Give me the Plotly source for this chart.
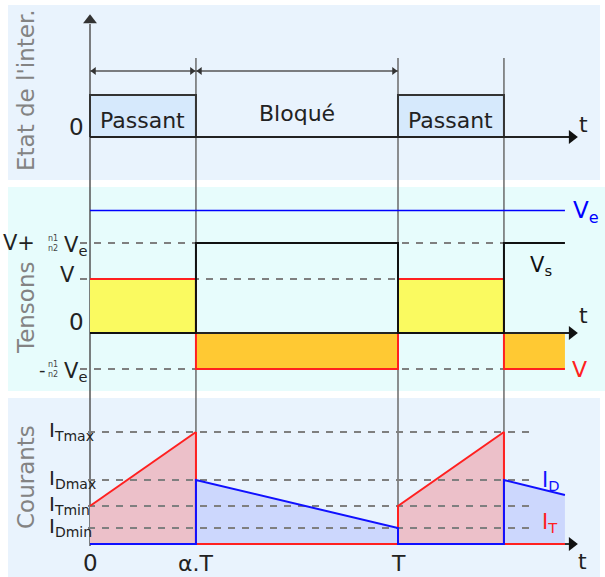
import plotly.graph_objects as go

# ---- timing (in units of the switching period T) ----
T = 1.0
alpha = 0.344
t_end = 1.542           # last instant drawn for the waveforms
t_axis_tip = 1.584      # tip of the time-axis arrows

# ---- switch state ----
state_labels = ["Passant", "Bloqué"]
state_on, state_off = 1, 0

# ---- voltages ----
V_out = 1.5             # V
V_refl = 1.0            # n1/n2 . Ve
V_e = 3.4               # Ve

# ---- currents ----
I_Tmax = 5.6
I_Tmin = 1.9
I_Dmax = 3.2
I_Dmin = 0.8
I_D_end = 2.45

time_labels = ["0", "α.T", "T"]

FONT = "DejaVu Sans"
W, H = 605, 577
PX_PER_T = 308.0
X0_PX = 90.0


def px_to_t(px):
    return (px - X0_PX) / PX_PER_T


def py_paper(py):
    return (H - py) / H


t_on = [0.0, T]
t_off = [alpha, T + alpha]
head = 6 / PX_PER_T     # half length of an arrow head, in time units

fig = go.Figure()


def line(x, y, ax, color, width=2, dash=None):
    fig.add_trace(go.Scatter(x=x, y=y, mode="lines", yaxis=ax, hoverinfo="skip",
                             line=dict(color=color, width=width, dash=dash)))


def arrow_head(x, y, ax, symbol, color="#111111", size=12):
    fig.add_trace(go.Scatter(x=[x], y=[y], mode="markers", yaxis=ax, hoverinfo="skip",
                             marker=dict(symbol=symbol, size=size, color=color,
                                         line=dict(width=0))))


# ------------------------------------------------------------------ top panel
for a, b in zip(t_on, t_off):
    fig.add_trace(go.Scatter(
        x=[a, a, b, b], y=[state_off, state_on, state_on, state_off],
        fill="toself", fillcolor="#d6e9fc", mode="lines",
        line=dict(color="#333333", width=2), yaxis="y", hoverinfo="skip"))
line([0, t_axis_tip - head], [state_off, state_off], "y", "#222222")
arrow_head(t_axis_tip - head, state_off, "y", "triangle-right")
# vertical axis arrow head
arrow_head(0, 2.78, "y", "triangle-up", color="#333333")

# duration arrows
dim_y = 1.571
for a, b in [(0, alpha), (alpha, T)]:
    line([a, b], [dim_y, dim_y], "y", "#555555", width=1.5)
    arrow_head(a + 4 / PX_PER_T, dim_y, "y", "triangle-left", color="#333333", size=7)
    arrow_head(b - 4 / PX_PER_T, dim_y, "y", "triangle-right", color="#333333", size=7)

# ------------------------------------------------------------------ middle panel
ye_fill = dict(mode="lines", line=dict(width=0), yaxis="y2", hoverinfo="skip", fill="toself")
for a, b in zip(t_on, t_off):
    fig.add_trace(go.Scatter(x=[a, a, b, b], y=[0, V_out, V_out, 0], fillcolor="#fafa60", **ye_fill))
for a, b in zip(t_off, [T, t_end]):
    fig.add_trace(go.Scatter(x=[a, a, b, b], y=[0, -V_refl, -V_refl, 0], fillcolor="#ffc933", **ye_fill))

for lvl in [V_out + V_refl, V_out, -V_refl]:
    line([px_to_t(80), T + alpha], [lvl, lvl], "y2", "#7f7f7f", dash="7px,7px")

line([0, t_end], [V_e, V_e], "y2", "#0000ff", width=1.5)
line([0, t_axis_tip - head], [0, 0], "y2", "#222222")
arrow_head(t_axis_tip - head, 0, "y2", "triangle-right")
line([0, alpha, alpha, T, T, T + alpha, T + alpha, t_end],
     [V_out, V_out, -V_refl, -V_refl, V_out, V_out, -V_refl, -V_refl], "y2", "#ff2020")
line([0, alpha, alpha, T, T, T + alpha, T + alpha, t_end],
     [0, 0, V_out + V_refl, V_out + V_refl, 0, 0, V_out + V_refl, V_out + V_refl], "y2", "#111111")

# ------------------------------------------------------------------ bottom panel
fig.add_trace(go.Scatter(
    x=[0, alpha, alpha, T, T, T + alpha, T + alpha, t_end],
    y=[I_Tmin, I_Tmax, 0, 0, I_Tmin, I_Tmax, 0, 0],
    mode="none", fill="tozeroy", fillcolor="#ecc0c9", yaxis="y3", hoverinfo="skip"))
fig.add_trace(go.Scatter(
    x=[0, alpha, alpha, T, T, T + alpha, T + alpha, t_end],
    y=[0, 0, I_Dmax, I_Dmin, 0, 0, I_Dmax, I_D_end],
    mode="none", fill="tozeroy", fillcolor="#ccd7fd", yaxis="y3", hoverinfo="skip"))
for lvl in [I_Tmax, I_Dmax, I_Tmin, I_Dmin]:
    line([px_to_t(88), px_to_t(530)], [lvl, lvl], "y3", "#7f7f7f", dash="7px,7px")
line([0, t_axis_tip - head], [0, 0], "y3", "#333333")
arrow_head(t_axis_tip - head, 0, "y3", "triangle-right")
line([alpha, alpha, T, T, T + alpha, T + alpha, t_end],
     [I_Tmax, 0, 0, I_Tmin, I_Tmax, 0, 0], "y3", "#ff2020")
line([0, alpha], [I_Tmin, I_Tmax], "y3", "#ff2020")
line([0, alpha, alpha, T, T, T + alpha, T + alpha, t_end],
     [0, 0, I_Dmax, I_Dmin, 0, 0, I_Dmax, I_D_end], "y3", "#1010ff")

# ------------------------------------------------------------------ shapes
shapes = []
panel_bg = [("y", "#e9f3fd", 600), ("y2", "#e7fcfc", 605), ("y3", "#e9f3fd", 600)]
for ax, col, right in panel_bg:
    shapes.append(dict(type="rect", xref="paper", yref=f"{ax} domain",
                       x0=8 / W, x1=right / W, y0=0, y1=1,
                       fillcolor=col, line=dict(width=0), layer="below"))
# time markers running through the three panels
for tm in [alpha, T, T + alpha]:
    shapes.append(dict(type="line", xref="x", yref="paper", x0=tm, x1=tm,
                       y0=py_paper(544), y1=py_paper(58),
                       line=dict(color="#6a6a6a", width=1.5), layer="below"))
# vertical axis
shapes.append(dict(type="line", xref="x", yref="paper", x0=0, x1=0,
                   y0=py_paper(546), y1=py_paper(24),
                   line=dict(color="#555555", width=1.5), layer="below"))
fig.update_layout(shapes=shapes)

# ------------------------------------------------------------------ annotations
ann = []


def text(x, y, s, size=22, color="#222222", xanchor="center", yanchor="middle",
         xref="x", yref="y", angle=0):
    ann.append(dict(x=x, y=y, text=s, xref=xref, yref=yref, showarrow=False,
                    xanchor=xanchor, yanchor=yanchor, textangle=angle,
                    font=dict(family=FONT, size=size, color=color)))


# panel titles
text(26 / W, py_paper(90), "Etat de l'inter.", size=23, color="#838383", xref="paper", yref="paper", angle=-90)
text(26 / W, py_paper(308), "Tensons", size=23, color="#838383", xref="paper", yref="paper", angle=-90)
text(26 / W, py_paper(477), "Courants", size=23, color="#838383", xref="paper", yref="paper", angle=-90)

# top panel texts
text((t_on[0] + t_off[0]) / 2, 0.40, state_labels[0], size=22)
text((t_on[1] + t_off[1]) / 2, 0.40, state_labels[0], size=22)
text((t_off[0] + t_on[1]) / 2, 0.57, state_labels[1], size=22)
text(86 / W, 0.24, "0", size=23, xref="paper", xanchor="right")
text(px_to_t(583), 0.30, "t", size=22)

# middle panel texts
text(37 / W, V_out + V_refl, "V+", size=21, xref="paper", yref="y2", xanchor="right")
text(53 / W, V_out + V_refl, "n1<br>n2", size=8, color="#444444", xref="paper", yref="y2")
text(62 / W, V_out + V_refl - 0.08, "V<sub>e</sub>", size=21, xref="paper", yref="y2", xanchor="left")
text(77 / W, V_out + 0.12, "V", size=21, xref="paper", yref="y2", xanchor="right")
text(86 / W, 0.30, "0", size=23, xref="paper", yref="y2", xanchor="right")
text(48 / W, -V_refl, "-", size=18, xref="paper", yref="y2", xanchor="right")
text(53 / W, -V_refl, "n1<br>n2", size=8, color="#444444", xref="paper", yref="y2")
text(62 / W, -V_refl - 0.08, "V<sub>e</sub>", size=21, xref="paper", yref="y2", xanchor="left")
text(px_to_t(571), V_e - 0.05, "V<sub>e</sub>", size=23, color="#0000ff", yref="y2", xanchor="left")
text(px_to_t(528), V_out + V_refl - 0.65, "V<sub>s</sub>", size=21, color="#111111", yref="y2", xanchor="left")
text(px_to_t(570), -V_refl, "V", size=22, color="#ff2020", yref="y2", xanchor="left")
text(px_to_t(583), 0.50, "t", size=22, yref="y2")

# bottom panel texts
for lvl, sub in [(I_Tmax, "Tmax"), (I_Dmax, "Dmax"), (I_Tmin, "Tmin"), (I_Dmin, "Dmin")]:
    text(47 / W, lvl + 0.05, f"I<sub>{sub}</sub>", size=20, xref="paper", yref="y3", xanchor="left")
text(0, -0.95, time_labels[0], size=23, yref="y3")
text(alpha, -0.95, time_labels[1], size=22, yref="y3")
text(T, -0.95, time_labels[2], size=22, yref="y3")
text(px_to_t(582), -0.85, "t", size=22, yref="y3")
text(px_to_t(540), I_Dmax - 0.05, "I<sub>D</sub>", size=21, color="#1010ff", yref="y3", xanchor="left")
text(px_to_t(540), 1.05, "I<sub>T</sub>", size=21, color="#ff2020", yref="y3", xanchor="left")

fig.update_layout(
    annotations=ann,
    width=W, height=H,
    margin=dict(l=0, r=0, t=0, b=0),
    paper_bgcolor="white", plot_bgcolor="rgba(0,0,0,0)",
    showlegend=False,
    xaxis=dict(range=[px_to_t(0), px_to_t(W)], visible=False, domain=[0, 1], fixedrange=True),
    yaxis=dict(domain=[py_paper(180), py_paper(5)], range=[-(180 - 137) / 42, (137 - 5) / 42],
               visible=False, anchor="x", fixedrange=True),
    yaxis2=dict(domain=[py_paper(391), py_paper(187)], range=[-(391 - 333) / 36, (333 - 187) / 36],
                visible=False, anchor="x", fixedrange=True),
    yaxis3=dict(domain=[py_paper(577), py_paper(398)], range=[-(577 - 544) / 20, (544 - 398) / 20],
                visible=False, anchor="x", fixedrange=True),
)

fig.write_html("out.html")
